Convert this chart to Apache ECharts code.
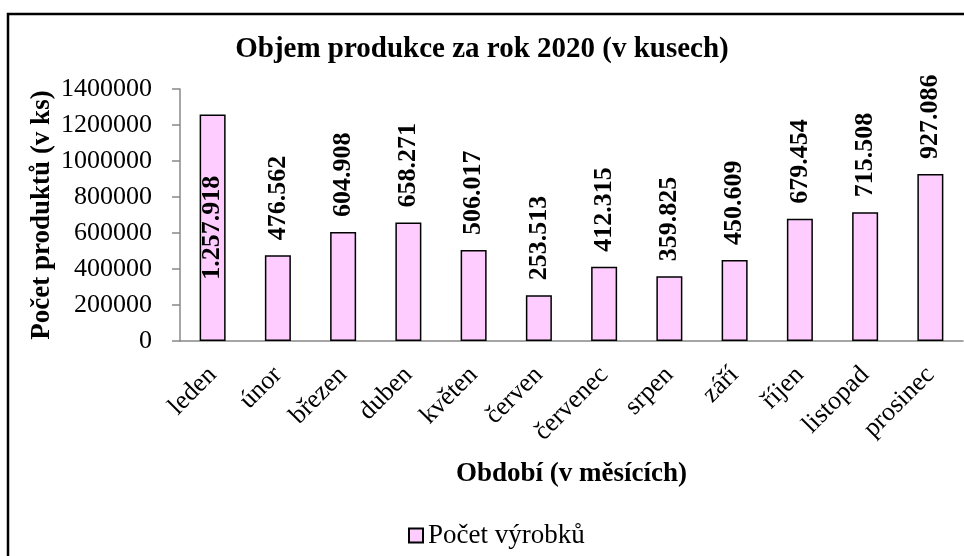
<!DOCTYPE html>
<html>
<head>
<meta charset="utf-8">
<script src="https://cdn.jsdelivr.net/npm/echarts@6/dist/echarts.min.js"></script>
<style>
  html, body { margin: 0; padding: 0; background: #fff; }
  #chart { width: 964px; height: 556px; }
</style>
</head>
<body>
<div id="chart"></div>
<script>
// data
const months = ['leden', 'únor', 'březen', 'duben', 'květen', 'červen',
  'červenec', 'srpen', 'září', 'říjen', 'listopad', 'prosinec'];
const counts = [1257918, 476562, 604908, 658271, 506017, 253513,
  412315, 359825, 450609, 679454, 715508, 927086];
const yTicks = { min: 0, max: 1400000, step: 200000 };

const serif = '"Liberation Serif", "DejaVu Serif", serif';

// thousands with dots, like 1.257.918
function fmt(v) {
  return String(v).replace(/\B(?=(\d{3})+(?!\d))/g, '.');
}

const chart = echarts.init(document.getElementById('chart'));

const option = {
  animation: false,
  backgroundColor: '#fff',
  title: {
    text: 'Objem produkce za rok 2020 (v kusech)',
    left: 'center',
    top: 30,
    textStyle: { fontFamily: serif, fontSize: 29, fontWeight: 'bold', color: '#000' }
  },
  legend: {
    left: 403,
    top: 517,
    icon: 'rect',
    itemWidth: 14,
    itemHeight: 14,
    itemGap: 5,
    textStyle: { fontFamily: serif, fontSize: 27, color: '#000' }
  },
  grid: {
    left: 180,
    right: 1,
    top: 89,
    bottom: 215
  },
  graphic: [
    {
      type: 'rect',
      shape: { x: 8, y: 14, width: 1000, height: 600 },
      style: { fill: 'none', stroke: '#000', lineWidth: 2.5 },
      silent: true
    }
  ],
  xAxis: {
    type: 'category',
    data: months,
    name: 'Období (v měsících)',
    nameLocation: 'middle',
    nameGap: 120,
    nameMoveOverlap: false,
    nameTextStyle: { fontFamily: serif, fontSize: 27, fontWeight: 'bold', color: '#000' },
    axisLine: { lineStyle: { color: '#888', width: 1.5 } },
    axisTick: { length: 8, lineStyle: { color: '#888', width: 1.5 } },
    axisLabel: {
      rotate: 45,
      margin: 30,
      interval: 0,
      fontFamily: serif,
      fontSize: 26,
      color: '#000'
    },
    splitLine: { show: false }
  },
  yAxis: {
    type: 'value',
    min: yTicks.min,
    max: yTicks.max,
    interval: yTicks.step,
    name: 'Počet produktů (v ks)',
    nameLocation: 'middle',
    nameGap: 124,
    nameMoveOverlap: false,
    nameTextStyle: { fontFamily: serif, fontSize: 27, fontWeight: 'bold', color: '#000' },
    axisLine: { show: true, lineStyle: { color: '#888', width: 1.5 } },
    axisTick: { show: true, length: 8, lineStyle: { color: '#888', width: 1.5 } },
    axisLabel: {
      margin: 28,
      fontFamily: serif,
      fontSize: 26,
      color: '#000',
      formatter: v => String(v)
    },
    splitLine: { show: false }
  },
  series: [
    {
      name: 'Počet výrobků',
      type: 'bar',
      barWidth: 26,
      itemStyle: { color: '#ffccff', borderColor: '#000', borderWidth: 1.5 },
      label: {
        show: true,
        position: 'top',
        rotate: 90,
        align: 'left',
        verticalAlign: 'middle',
        distance: 15,
        fontFamily: serif,
        fontSize: 26,
        fontWeight: 'bold',
        color: '#000',
        formatter: p => fmt(p.value)
      },
      // the tallest bar carries its label inside
      data: counts.map((v, i) => i === 0
        ? { value: v, label: { position: 'inside', align: 'center' } }
        : v)
    }
  ]
};

chart.setOption(option);
</script>
</body>
</html>
